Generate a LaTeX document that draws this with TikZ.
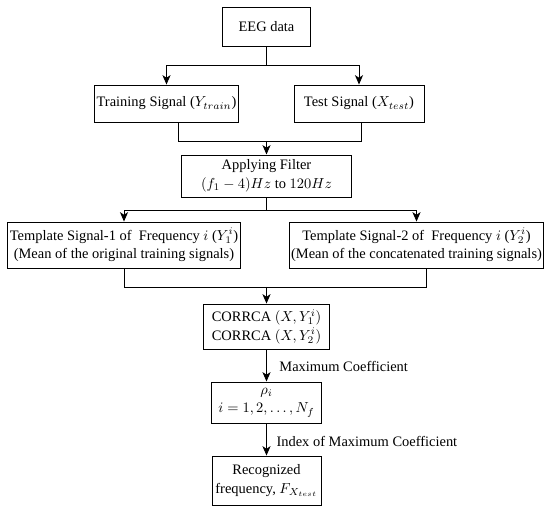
\documentclass[tikz,border=0pt]{standalone}
\usepackage{fontspec}
\setmainfont{Liberation Serif}
\usetikzlibrary{arrows.meta}
\tikzset{
  box/.style={draw, line width=0.65pt, align=center, inner sep=1pt,
    font=\fontsize{10pt}{13pt}\selectfont},
  conn/.style={line width=0.65pt},
  arr/.style={conn, -{Stealth[length=6.5pt,width=5.6pt,inset=1.8pt]}},
  lbl/.style={anchor=west, inner sep=1pt, font=\fontsize{10pt}{12pt}\selectfont}
}
\begin{document}
\begin{tikzpicture}[x=0.692pt, y=-0.692pt]
\useasboundingbox (0,0) rectangle (544,506);
\node[box, minimum width=60.9pt, minimum height=27pt] (eeg) at (266.5,26.5) {EEG data};
\node[box, minimum width=99.6pt, minimum height=25.6pt] (train) at (166.5,103.5) {Training Signal ($Y_{train}$)};
\node[box, minimum width=90pt, minimum height=25.6pt] (test) at (359,103.5) {Test Signal ($X_{test}$)};
\node[box, minimum width=117pt, minimum height=29.1pt] (filt) at (266.5,176) {Applying Filter\\$(f_1-4)Hz$ to $120Hz$};
\node[box, minimum width=161.2pt, minimum height=31.8pt] (t1) at (124,245) {Template Signal-1 of\ \ Frequency $i$ ($Y_1^i$)\\(Mean of the original training signals)};
\node[box, minimum width=175.1pt, minimum height=31.8pt] (t2) at (416.5,245) {Template Signal-2 of\ \ Frequency $i$ ($Y_2^i$)\\(Mean of the concatenated training signals)};
\node[box, minimum width=87.2pt, minimum height=31.1pt] (corr) at (266.5,326.5) {CORRCA $(X,Y_1^i)$\\CORRCA $(X,Y_2^i)$};
\node[box, minimum width=76.1pt, minimum height=28.4pt] (rho) at (266.5,402.5) {$\rho_i$\\$i=1,2,\ldots,N_f$};
\node[box, minimum width=75.4pt, minimum height=33.9pt] (rec) at (266.5,480.5) {Recognized\\frequency, $F_{X_{test}}$};

\coordinate (b1) at (266.5,65);
\coordinate (m1) at (266.5,141);
\coordinate (s1) at (266.5,210);
\coordinate (m2) at (266.5,287);

\draw[conn] (eeg.south) -- (b1);
\draw[arr] (b1) -| (train.north);
\draw[arr] (b1) -| (test.north);
\draw[conn] ([xshift=8pt]train.south) |- (m1);
\draw[conn] ([xshift=2pt]test.south) |- (m1);
\draw[arr] (m1) -- (filt.north);
\draw[conn] (filt.south) -- (s1);
\draw[arr] (s1) -| (t1.north);
\draw[arr] (s1) -| (t2.north);
\draw[conn] (t1.south) |- (m2);
\draw[conn] ([xshift=6.6pt]t2.south) |- (m2);
\draw[arr] (m2) -- (corr.north);
\draw[arr] (corr.south) -- node[lbl, xshift=7.6pt, yshift=-1pt] (l1) {Maximum Coefficient} (rho.north);
\draw[arr] (rho.south) -- node[lbl, xshift=5.6pt, yshift=-1.7pt] (l2) {Index of Maximum Coefficient} (rec.north);
\end{tikzpicture}
\end{document}
